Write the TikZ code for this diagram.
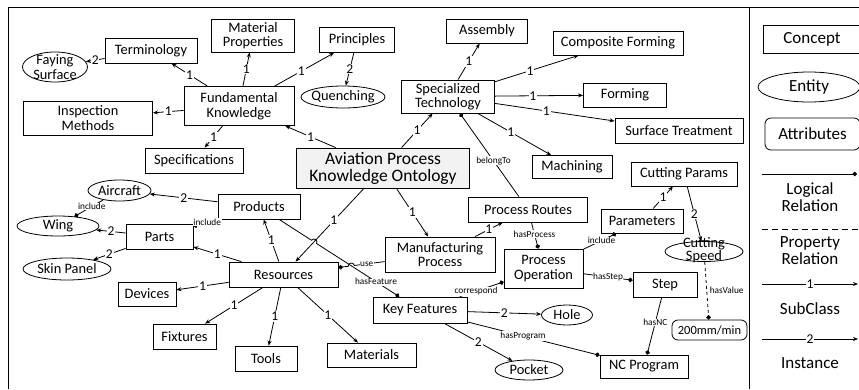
\documentclass[tikz,border=0pt]{standalone}
\usepackage{fontspec}
\setmainfont{Carlito}
\usetikzlibrary{arrows.meta,calc,shapes.geometric}

\newcommand\boxfont{\fontsize{14.4}{14.5}\selectfont}
\newcommand\headfont{\fontsize{17.5}{17}\selectfont}
\newcommand\keyfont{\fontsize{17}{17}\selectfont}
\newcommand\edgefont{\fontsize{13.5}{13.5}\selectfont}
\newcommand\relfont{\fontsize{9.3}{9.3}\selectfont}

\begin{document}
\begin{tikzpicture}
  [x=1pt, y=-1pt, line width=0.8pt,
   every node/.style={font=\boxfont, inner sep=0pt, align=center},
   concept/.style={draw, rectangle},
   entity/.style={draw, ellipse, label={[txt]center:#1}},
   attr/.style={draw, rounded corners=6pt},
   txt/.style={font=\boxfont, align=center, inner sep=0pt},
   num/.style={fill=white, inner sep=0.8pt, font=\edgefont},
   rel/.style={fill=white, inner sep=0.6pt, font=\relfont},
   sub/.style={-{Stealth[length=5pt,width=4pt]}},
   logic/.style={-{Circle[length=4.5pt]}}]
  \useasboundingbox (0,0) rectangle (859,389);

  \node[concept, fill=gray!10, minimum width=173, minimum height=40, font=\headfont] (root) at (383,168) {Aviation Process\\Knowledge Ontology};

  \node[concept, minimum width=110, minimum height=39] (fk) at (239,106) {Fundamental\\Knowledge};
  \node[concept, minimum width=92, minimum height=25] (term) at (151,50.5) {Terminology};
  \node[entity={Faying\\Surface}, minimum width=65, minimum height=30] (fay) at (55,67) {};
  \node[concept, minimum width=83, minimum height=33] (matp) at (253,35.5) {Material\\Properties};
  \node[concept, minimum width=75, minimum height=25] (prin) at (357,40) {Principles};
  \node[entity=Quenching, minimum width=84, minimum height=22] (quen) at (343,97) {};
  \node[concept, minimum width=129, minimum height=34] (insp) at (88,118) {Inspection\\Methods};
  \node[concept, minimum width=98, minimum height=25] (spec) at (194,160.5) {Specifications};

  \node[concept, minimum width=93, minimum height=33] (spt) at (448,96.5) {Specialized\\Technology};
  \node[concept, minimum width=81, minimum height=24] (asm) at (487,31) {Assembly};
  \node[concept, minimum width=130, minimum height=24] (comp) at (618,43) {Composite Forming};
  \node[concept, minimum width=83, minimum height=24] (form) at (625,95) {Forming};
  \node[concept, minimum width=128, minimum height=25] (surf) at (679,130.5) {Surface Treatment};
  \node[concept, minimum width=80, minimum height=23] (mach) at (572,167) {Machining};

  \node[concept, minimum width=110, minimum height=35] (manu) at (440,254.5) {Manufacturing\\Process};
  \node[concept, minimum width=119, minimum height=25] (route) at (528,209.5) {Process Routes};
  \node[concept, minimum width=79, minimum height=39] (oper) at (543.5,268.5) {Process\\Operation};
  \node[concept, minimum width=82, minimum height=24] (param) at (642,221) {Parameters};
  \node[concept, minimum width=106, minimum height=24] (cutp) at (684,174) {Cutting Params};
  \node[draw, ellipse, minimum width=78, minimum height=20] (speed) at (704,251.5) {};
  \node[txt, font=\fontsize{14.4}{9.5}\selectfont] (speedtxt) at (704,250) {Cutting\\Speed};
  \node[attr, minimum width=75, minimum height=20, font=\fontsize{12.5}{13}\selectfont] (val) at (709.5,330) {200mm/min};
  \node[concept, minimum width=64, minimum height=25] (step) at (665,284.5) {Step};
  \node[concept, minimum width=88, minimum height=23] (ncp) at (644,366.5) {NC Program};
  \node[concept, minimum width=94, minimum height=26] (feat) at (420,310) {Key Features};
  \node[entity=Hole, minimum width=51, minimum height=20] (hole) at (567,315) {};
  \node[entity=Pocket, minimum width=68, minimum height=20] (pock) at (529,370) {};

  \node[concept, minimum width=82, minimum height=25] (prod) at (259,206.5) {Products};
  \node[entity=Aircraft, minimum width=63, minimum height=21] (air) at (119.5,190.5) {};
  \node[concept, minimum width=67, minimum height=25] (part) at (159.5,236.5) {Parts};
  \node[entity=Wing, minimum width=82, minimum height=20] (wing) at (58,226) {};
  \node[entity={Skin Panel}, minimum width=88, minimum height=22] (skin) at (67,269) {};
  \node[concept, minimum width=109, minimum height=25] (res) at (283.5,274.5) {Resources};
  \node[concept, minimum width=58, minimum height=24] (dev) at (147,294) {Devices};
  \node[concept, minimum width=63, minimum height=25] (fix) at (184.5,336.5) {Fixtures};
  \node[concept, minimum width=62, minimum height=25] (tool) at (266,358.5) {Tools};
  \node[concept, minimum width=89, minimum height=24] (mat) at (371.5,355) {Materials};

  \draw[sub] (root) -- node[num]{1} (fk);
  \draw[sub] (fk) -- node[num]{1} (term);
  \draw[sub] (fk) -- node[num]{1} (matp);
  \draw[sub] (fk) -- node[num, pos=0.45]{1} (prin);
  \draw[sub] (fk) -- node[num]{1} (insp);
  \draw[sub] (fk) -- node[num]{1} (spec);
  \draw[sub] (term) -- node[num]{2} (fay);
  \draw[sub] (prin) -- node[num]{2} (quen);

  \draw[sub] (root) -- node[num]{1} (spt);
  \draw[sub] (spt) -- node[num]{1} (asm);
  \draw[sub] (spt) -- node[num, pos=0.42]{1} (comp);
  \draw[sub] (spt) -- node[num, pos=0.43]{1} (form);
  \draw[sub] (spt) -- node[num, pos=0.43]{1} (surf);
  \draw[sub] (spt) -- node[num, pos=0.45]{1} (mach);
  \draw[logic] (route) -- node[rel, pos=0.43]{belongTo} (spt);

  \draw[sub] (root) -- node[num]{1} (manu);
  \draw[sub] (root) -- node[num, pos=0.44]{1} (res);
  \draw[sub] (manu) -- node[num]{1} (route);
  \draw[logic] (route) -- node[rel, pos=0.45]{hasProcess} (oper);
  \draw[logic] (oper) -- node[rel, pos=0.55]{include} (param);
  \draw[sub] (param) -- node[num]{1} (cutp);
  \draw[sub] (cutp) -- node[num]{2} (speed);
  \draw[logic, dashed] (speed) -- node[rel, anchor=west, xshift=2pt]{hasValue} (val);
  \draw[logic] (oper) -- node[rel]{hasStep} (step);
  \draw[logic] (step) -- node[rel, pos=0.44]{hasNC} (ncp);
  \draw[logic] (feat) -- node[rel, pos=0.37]{correspond} (oper);
  \draw[sub] (feat) -- node[num]{2} (hole);
  \draw[sub] (feat) -- node[num]{2} (pock);
  \draw[logic] (feat) -- node[rel, pos=0.42]{hasProgram} (ncp);

  \draw[sub] (res) -- node[num]{1} (prod);
  \draw[sub] (res) -- node[num]{1} (part);
  \draw[sub] (res) -- node[num]{1} (dev);
  \draw[sub] (res) -- node[num]{1} (fix);
  \draw[sub] (res) -- node[num]{1} (tool);
  \draw[sub] (res) -- node[num]{1} (mat);
  \draw[sub] (prod) -- node[num]{2} (air);
  \draw[sub] (part) -- node[num]{2} (wing);
  \draw[sub] (part) -- node[num]{2} (skin);
  \draw[logic] (prod) -- node[rel, pos=0.43]{include} (part);
  \draw[logic] (air) -- node[rel, pos=0.4]{include} (wing);

  \coordinate (hopa) at (intersection of prod.center--feat.center and root.center--res.center);
  \coordinate (hopb) at (intersection of manu.center--res.center and prod.center--feat.center);
  \draw[logic] (prod) -- ($(hopa)!3pt!(prod.center)$) to[bend left=90, looseness=1.6] ($(hopa)!3pt!(feat.center)$) -- node[rel, pos=0.72]{hasFeature} (feat);
  \draw[logic] (manu) -- node[rel, pos=0.59]{use} ($(hopb)!3pt!(manu.center)$) to[bend right=90, looseness=1.6] ($(hopb)!3pt!(res.center)$) -- (res);

  \coordinate (ftl) at (8,7);
  \coordinate (fbl) at (8,389);
  \coordinate (ftr) at (859,7);
  \coordinate (sept) at (749,7);
  \coordinate (sepb) at (749,389);
  \draw[line width=1pt] (fbl) -- (ftl) -- (ftr);
  \draw (sept) -- (sepb);

  \node[concept, minimum width=98, minimum height=28, font=\keyfont] (keyc) at (812,39) {Concept};
  \node[entity={\keyfont Entity}, minimum width=102, minimum height=30] (keye) at (809,87) {};
  \node[attr, minimum width=95, minimum height=32, font=\keyfont] (keya) at (812.5,134) {Attributes};
  \coordinate (keyla) at (762,174);
  \coordinate (keylb) at (857,174);
  \draw[logic] (keyla) -- (keylb);
  \node[font=\keyfont] (keyl) at (810,197) {Logical\\Relation};
  \coordinate (keypa) at (762,229);
  \coordinate (keypb) at (859,229);
  \draw[dash pattern=on 6pt off 4pt] (keypa) -- (keypb);
  \node[font=\keyfont] (keyp) at (810,251) {Property\\Relation};
  \coordinate (keysa) at (762,284);
  \coordinate (keysb) at (858,284);
  \draw[sub] (keysa) -- node[num]{1} (keysb);
  \node[font=\keyfont] (keys) at (810,309) {SubClass};
  \coordinate (keyia) at (762,339);
  \coordinate (keyib) at (858,339);
  \draw[sub] (keyia) -- node[num]{2} (keyib);
  \node[font=\keyfont] (keyi) at (810,363) {Instance};
\end{tikzpicture}
\end{document}
